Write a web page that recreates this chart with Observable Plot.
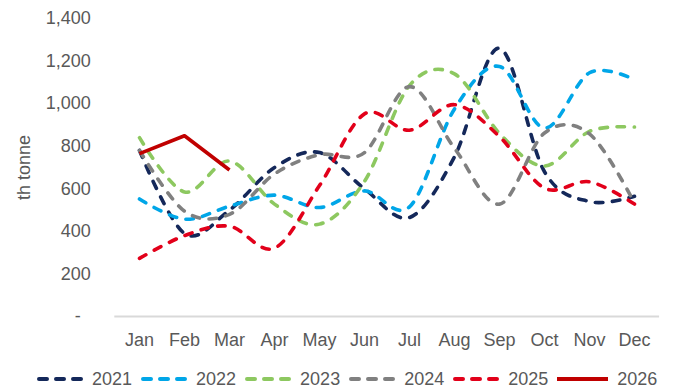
<!DOCTYPE html>
<html>
<head>
<meta charset="utf-8">
<script src="https://cdn.jsdelivr.net/npm/d3@7"></script>
<script src="https://cdn.jsdelivr.net/npm/@observablehq/plot@0.6"></script>
<style>
  html, body { margin: 0; padding: 0; background: #fff; }
  body { width: 673px; height: 392px; position: relative; overflow: hidden;
         font-family: "Liberation Sans", Arial, sans-serif; }
  #chart svg { display: block; }
  #legend { position: absolute; left: 37px; top: 367px; height: 24px;
            display: flex; align-items: center; font-size: 18px; color: #595959; }
  .item { display: flex; align-items: center; margin-right: 9px; }
  .item svg { margin-right: 9px; display: block; }
</style>
</head>
<body>
<div id="chart"></div>
<div id="legend"></div>
<script>
// Monthly volumes, thousand tonnes
const months = ["Jan", "Feb", "Mar", "Apr", "May", "Jun", "Jul", "Aug", "Sep", "Oct", "Nov", "Dec"];
const years = ["2021", "2022", "2023", "2024", "2025", "2026"];
const v2021 = [780, 390, 500, 700, 770, 600, 465, 750, 1260, 680, 540, 565];
const v2022 = [552, 457, 518, 570, 512, 590, 515, 975, 1175, 885, 1145, 1113];
const v2023 = [840, 585, 730, 528, 434, 635, 1085, 1140, 860, 707, 870, 890];
const v2024 = [780, 495, 480, 670, 760, 770, 1080, 790, 528, 862, 858, 533];
const v2025 = [273, 380, 424, 321, 615, 952, 875, 995, 845, 603, 633, 528];
const v2026 = [765, 849, 688];
const yTicks = [0, 200, 400, 600, 800, 1000, 1200, 1400];

const values = [v2021, v2022, v2023, v2024, v2025, v2026];
const colors = ["#14285a", "#00a6e8", "#8dc860", "#808080", "#e2001a", "#c00000"];
const dashed = [true, true, true, true, true, false];

const series = years.map((year, i) => ({
  year,
  color: colors[i],
  dashed: dashed[i],
  rows: values[i].map((value, j) => ({month: months[j], value}))
}));

const textColor = "#595959";

const lineMarks = series.map(s => Plot.line(s.rows, {
  x: "month",
  y: "value",
  stroke: s.color,
  strokeWidth: 3.6,
  strokeDasharray: s.dashed ? "7.5,9.5" : null,
  strokeLinecap: s.dashed ? "round" : "butt",
  strokeLinejoin: "round",
  curve: s.dashed ? "cardinal" : "linear"
}));

const chart = Plot.plot({
  width: 673,
  height: 355,
  marginTop: 18,
  marginBottom: 39,
  marginLeft: 114.3,
  marginRight: 13.9,
  style: {fontFamily: "'Liberation Sans', Arial, sans-serif", fontSize: "18px", color: textColor, background: "#fff"},
  x: {type: "point", domain: months, padding: 0.5, label: null},
  y: {domain: [0, 1400], label: null},
  marks: [
    Plot.ruleY([0], {stroke: "#d9d9d9", strokeWidth: 2}),
    Plot.axisX({tickSize: 0, tickPadding: 17, fill: textColor, label: null, fontSize: 18}),
    Plot.axisY(yTicks, {
      tickSize: 0, tickPadding: 24, fill: textColor, label: null, fontSize: 18,
      tickFormat: d => d === 0 ? "-\u00a0\u00a0" : d3.format(",")(d)
    }),
    Plot.text(["th tonne"], {frameAnchor: "left", textAnchor: "middle", dx: -91, rotate: -90, fill: textColor, fontSize: 18}),
    ...lineMarks
  ]
});
document.getElementById("chart").appendChild(chart);

// Legend row under the plot
const legend = d3.select("#legend");
series.forEach(s => {
  const item = legend.append("div").attr("class", "item");
  const w = s.dashed ? 46 : 51;
  const sw = item.append("svg").attr("width", w).attr("height", 8);
  sw.append("line")
    .attr("x1", s.dashed ? 2 : 0).attr("x2", s.dashed ? w - 2 : w)
    .attr("y1", 4).attr("y2", 4)
    .attr("stroke", s.color)
    .attr("stroke-width", 4)
    .attr("stroke-linecap", s.dashed ? "round" : "butt")
    .attr("stroke-dasharray", s.dashed ? "8,9" : null);
  item.append("span").text(s.year);
});
</script>
</body>
</html>
